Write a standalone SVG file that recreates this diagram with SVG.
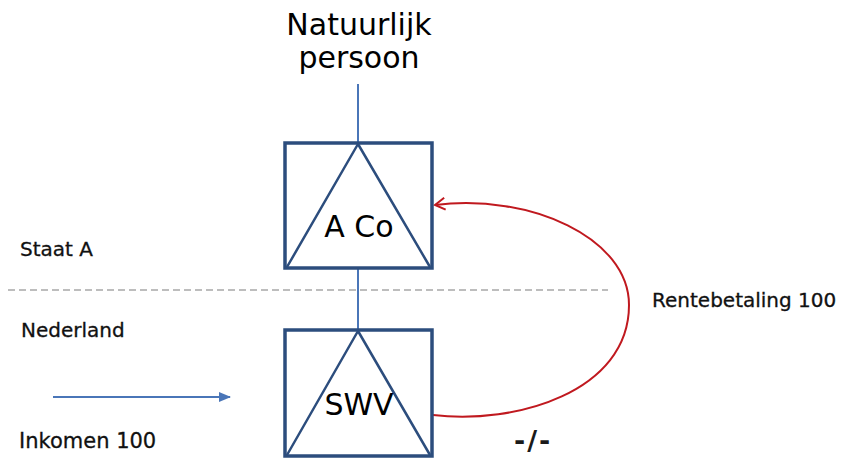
<svg xmlns="http://www.w3.org/2000/svg" width="856" height="460" viewBox="0 0 856 460">
<style>
.box{fill:none;stroke:#2c4d7d;stroke-width:3.5;stroke-linejoin:miter}
.tri{fill:none;stroke:#2c4d7d;stroke-width:2.5;stroke-linejoin:round}
.big{font-family:"DejaVu Sans",Verdana,sans-serif;font-size:30px;fill:#000;text-anchor:middle}
.lbl{font-family:"DejaVu Sans",Verdana,sans-serif;font-size:20px;fill:#111;stroke:#111;stroke-width:0.3}
.link{stroke:#4a76b8;stroke-width:2;fill:none}
</style>
<defs>
<marker id="blueHead" markerWidth="12" markerHeight="10" refX="11" refY="5" orient="auto" markerUnits="userSpaceOnUse">
<path d="M0,0 L12,5 L0,10 Z" fill="#4a76b8"/>
</marker>
<marker id="redHead" markerWidth="14" markerHeight="14" refX="12" refY="7" orient="auto" markerUnits="userSpaceOnUse">
<path d="M2,1 L12,7 L2,13" fill="none" stroke="#c0191f" stroke-width="2"/>
</marker>
</defs>
<rect width="856" height="460" fill="#fff"/>
<line x1="8" y1="290" x2="608" y2="290" stroke="#bdbdbd" stroke-width="2" stroke-dasharray="7,4"/>
<g id="persoon">
<text class="big" x="359" y="35">Natuurlijk</text>
<text class="big" x="359" y="68">persoon</text>
</g>
<g id="connectors">
<line class="link" x1="358" y1="84" x2="358" y2="143"/>
<line class="link" x1="358" y1="268" x2="358" y2="330"/>
<line class="link" x1="53" y1="397" x2="230" y2="397" marker-end="url(#blueHead)"/>
<path d="M433,415 C515,425 629,392 629,305 C629,238 530,193 435,205" fill="none" stroke="#c0191f" stroke-width="2" marker-end="url(#redHead)"/>
</g>
<g id="aco">
<rect class="box" x="285" y="143" width="147" height="125"/>
<path class="tri" d="M287,267 L358,144 L430,267"/>
<text class="big" x="359" y="237">A Co</text>
</g>
<g id="swv">
<rect class="box" x="285" y="330" width="147" height="126"/>
<path class="tri" d="M287,455 L358,331 L430,455"/>
<text class="big" x="359" y="415">SWV</text>
</g>
<g id="labels">
<text class="lbl" x="20" y="256">Staat A</text>
<text class="lbl" x="21" y="337">Nederland</text>
<text class="lbl" x="19" y="448" style="font-size:21px">Inkomen 100</text>
<text class="lbl" x="652" y="307">Rentebetaling 100</text>
<text x="514" y="450" style="font-family:'DejaVu Sans',sans-serif;font-size:27px;font-weight:bold;letter-spacing:2px;fill:#1a1a1a">-/-</text>
</g>
</svg>
